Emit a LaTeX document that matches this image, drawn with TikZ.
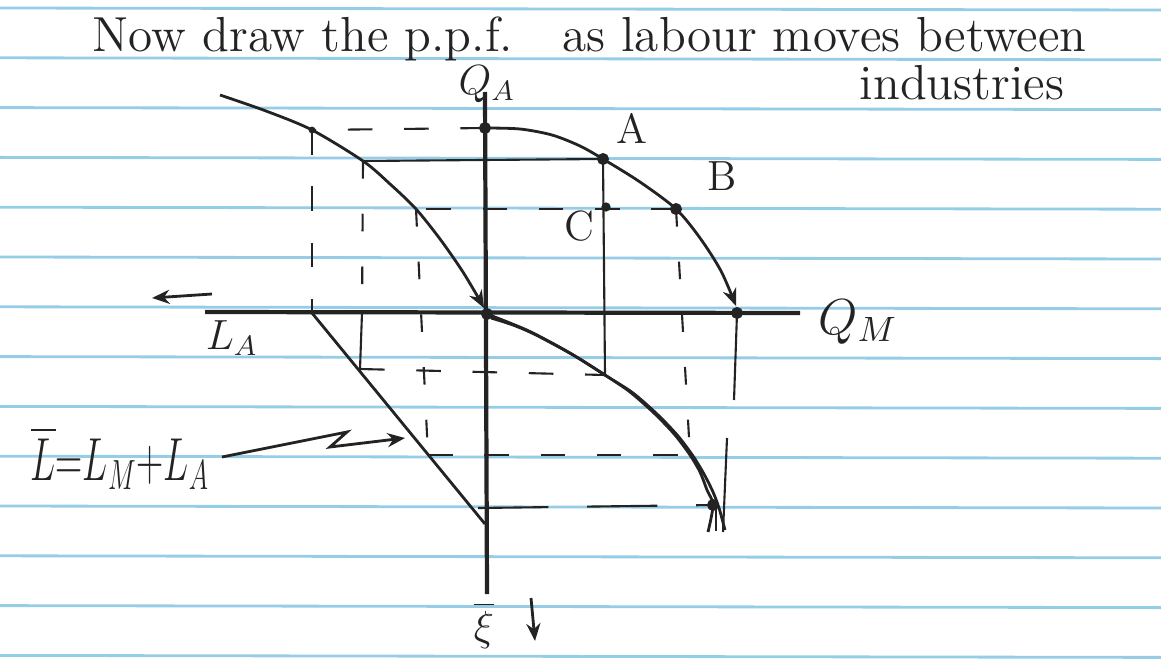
\documentclass[tikz,border=0pt]{standalone}
\usepackage{amsmath,amssymb}
\usetikzlibrary{arrows.meta}
\definecolor{paperBlue}{RGB}{150,205,230}
\definecolor{inkGrey}{RGB}{35,35,35}

\begin{document}
\begin{tikzpicture}[x=0.01cm,y=-0.01cm,
    ruling/.style={paperBlue,line width=0.8pt},
    axis/.style={inkGrey,line width=1.2pt},
    curve/.style={inkGrey,line width=0.8pt},
    guide/.style={inkGrey,line width=0.6pt},
    gdash/.style={guide,dash pattern=on 7pt off 9pt},
    gsparse/.style={guide,dash pattern=on 5pt off 10pt},
    dot/.style={circle,fill=inkGrey,draw=inkGrey,inner sep=0pt,minimum size=3pt},
    txt/.style={text=inkGrey,inner sep=0pt},
    >={Stealth[length=5pt,width=4pt]}]

    \useasboundingbox (0,0) rectangle (1161,664);

    % lined paper
    \foreach \k in {0,...,13} {
      \draw[ruling] (0,{8+49.8*\k}) -- (1161,{10+49.8*\k});
    }

    % heading
    \node[txt,anchor=base west,font=\fontsize{14}{16}\selectfont] (head) at (92,52)
      {Now draw the p.p.f.\quad as labour moves between};
    \node[txt,anchor=base,font=\fontsize{14}{16}\selectfont] (head2) at (962,100) {industries};

    % axes
    \coordinate (O) at (487,314);
    \coordinate (xl) at (205,312);
    \coordinate (xr) at (800,313);
    \coordinate (yt) at (485,92);
    \coordinate (yb) at (487,594);
    \draw[axis] (xl) -- (xr);
    \draw[axis] (yt) -- (yb);
    \node[txt,font=\fontsize{12}{14}\selectfont] (QA) at (487,84) {$Q_A$};
    \node[txt,font=\fontsize{14}{16}\selectfont] (QM) at (858,322) {$Q_M$};
    \node[txt,font=\fontsize{12}{14}\selectfont] (LA) at (232,338) {$L_A$};
    \node[txt,font=\fontsize{13}{15}\selectfont] (LM) at (484,625) {$\overline{\xi}$};
    \coordinate (lt1) at (212,294);
    \coordinate (lt2) at (152,298);
    \draw[curve,->] (lt1) -- (lt2);
    \coordinate (dn1) at (531,598);
    \coordinate (dn2) at (535,641);
    \draw[curve,->] (dn1) -- (dn2);

    % points
    \coordinate (qa) at (485,128);
    \coordinate (a) at (603,159);
    \coordinate (b) at (676,209);
    \coordinate (c) at (606,207);
    \coordinate (qm) at (737,313);
    \coordinate (t0) at (312,130);
    \coordinate (tA) at (363,161);
    \coordinate (tB) at (416,209);
    \coordinate (la) at (312,313);
    \coordinate (lm) at (485,524);
    \coordinate (dA) at (360,369);
    \coordinate (dB) at (428,455);
    \coordinate (sA) at (605,375);
    \coordinate (sB) at (690,455);
    \coordinate (sM) at (713,505);

    % ppf
    \draw[curve,->] plot[smooth,tension=0.5] coordinates
      {(qa) (520,129) (552,135) (580,146) (a) (640,182) (b) (700,238) (721,271) (736,306)};
    % labour in A
    \draw[curve,->] plot[smooth,tension=0.5] coordinates
      {(220,95) (266,111) (t0) (tA) (390,184) (tB) (440,239) (461,269) (475,292) (484,308)};
    % labour in M
    \draw[curve] plot[smooth,tension=0.5] coordinates
      {(O) (510,323) (533,333) (570,353) (sA) (630,392) (655,414) (675,435) (sB) (700,472) (707,490) (sM) (708,532)};
    \draw[curve] plot[smooth,tension=0.5] coordinates
      {(491,318) (513,325) (536,335) (573,355) (608,377) (633,393) (658,415) (678,436) (693,456) (704,474) (713,492) (719,508) (725,530)};
    \coordinate (m1) at (716,506);
    \coordinate (m2) at (716,531);
    \draw[curve] (m1) -- (m2);
    % labour line
    \draw[curve] (la) -- (lm);

    % guides
    \draw[gdash] (qa) -- (t0);
    \draw[gdash] (t0) -- (la);
    \draw[guide] (a) -- (tA);
    \draw[gsparse] (tA) -- (362,313);
    \draw[guide] (362,313) -- (dA);
    \draw[gdash] (dA) -- (sA);
    \draw[guide] (a) -- (sA);
    \draw[gdash] (b) -- (tB);
    \draw[gsparse] (tB) -- (dB);
    \draw[gdash] (dB) -- (sB);
    \draw[gsparse] (b) -- (sB);
    \coordinate (v1) at (734,400);
    \coordinate (v2) at (727,438);
    \coordinate (v3) at (723,532);
    \draw[guide] (qm) -- (v1);
    \draw[guide] (v2) -- (v3);
    \coordinate (h0) at (478,508);
    \draw[guide,dash pattern=on 20pt off 11pt] (h0) -- (sM);

    % dots
    \node[dot] (qaD) at (qa) {};
    \node[dot] (aD) at (a) {};
    \node[dot] (bD) at (b) {};
    \node[dot,minimum size=2.2pt] (cD) at (c) {};
    \node[dot] (qmD) at (qm) {};
    \node[dot] (OD) at (O) {};
    \node[dot] (sMD) at (sM) {};
    \node[dot,minimum size=1.5pt] (t0D) at (t0) {};

    \node[txt,font=\fontsize{12}{14}\selectfont] (Alab) at (632,128) {A};
    \node[txt,font=\fontsize{12}{14}\selectfont] (Blab) at (722,176) {B};
    \node[txt,font=\fontsize{12}{14}\selectfont] (Clab) at (579,226) {C};

    % total labour
    \node[txt,anchor=base west,font=\fontsize{17}{19}\selectfont] (Lsum) at (30,480)
      {\scalebox{0.62}[1]{$\overline{L}{=}L_M{+}L_A$}};
    \coordinate (z0) at (222,457);
    \coordinate (z1) at (347,432);
    \coordinate (z2) at (330,447);
    \coordinate (z3) at (405,438);
    \draw[curve,->] (z0) -- (z1) -- (z2) -- (z3);
\end{tikzpicture}
\end{document}
